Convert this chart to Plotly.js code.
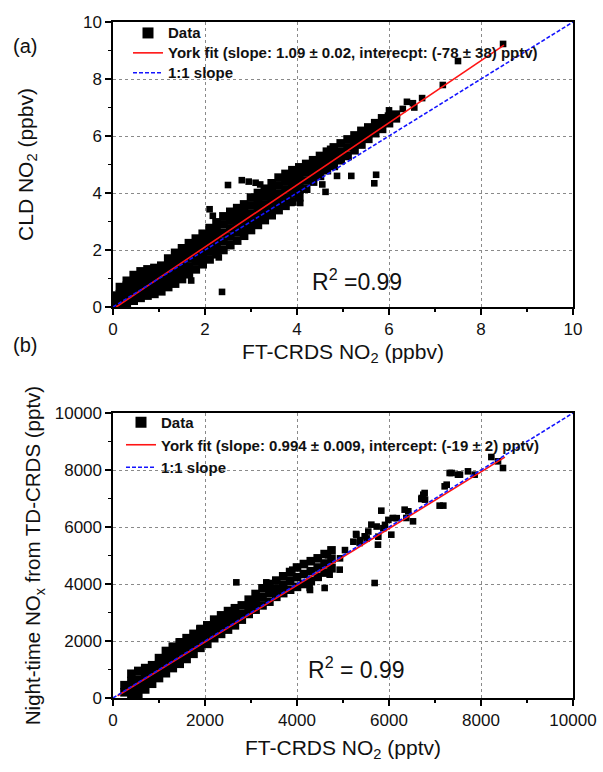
<!DOCTYPE html>
<html><head><meta charset="utf-8">
<script src="https://cdn.plot.ly/plotly-3.0.1.min.js"></script>
<style>html,body{margin:0;padding:0;background:#fff}#chart{width:603px;height:772px}</style>
</head><body><div id="chart"></div>
<script>
// ---------- Panel (a): CLD NO2 vs FT-CRDS NO2 (ppbv) ----------
const aColX = [0.05,0.15,0.3,0.45,0.6,0.75,0.9,1.05,1.2,1.35,1.5,1.65,1.8,1.95,2.1,2.25,2.4,2.55,2.7,2.85,3.0,3.15,3.3,3.45,3.6,3.75,3.9,4.05,4.2,4.35,4.5,4.65,4.8,4.95,5.1,5.25,5.4,5.55,5.7,5.85,6.0,6.15];
const aColY = [
 [0.02,0.2,0.4],[0.05,0.25,0.45,0.7],[0.12,0.33,0.55,0.75,0.92],[0.22,0.45,0.68,0.9,1.12],
 [0.32,0.55,0.78,1.0,1.25],[0.4,0.62,0.85,1.08,1.32],[0.46,0.7,0.92,1.15,1.37],[0.55,0.78,1.0,1.22,1.45],
 [0.7,0.95,1.2,1.45,1.7],[0.82,1.08,1.35,1.62,1.9],[0.98,1.25,1.52,1.8,2.06],[1.15,1.42,1.7,1.97,2.24],
 [1.32,1.6,1.87,2.14,2.4],[1.5,1.77,2.04,2.3,2.57],[1.67,1.95,2.22,2.5,2.77],[1.85,2.13,2.41,2.7,2.97],
 [2.0,2.3,2.6,2.9,3.18],[2.17,2.47,2.76,3.05,3.34],[2.33,2.62,2.91,3.2,3.47],[2.5,2.78,3.06,3.33,3.6],
 [2.7,2.98,3.27,3.56,3.84],[2.88,3.16,3.44,3.72,4.0],[3.05,3.33,3.6,3.88,4.15],[3.22,3.5,3.78,4.06,4.34],
 [3.4,3.68,3.97,4.26,4.54],[3.55,3.83,4.12,4.4,4.67],[3.7,3.98,4.25,4.52,4.8],[3.85,4.12,4.38,4.64,4.9],
 [4.15,4.44,4.73,5.02],[4.4,4.65,4.9,5.15],[4.6,4.85,5.07,5.3],[4.8,5.03,5.25,5.45],[4.95,5.18,5.4,5.6],
 [5.15,5.45,5.74],[5.3,5.6,5.88],[5.5,5.76,6.02],[5.7,5.95,6.18],[5.9,6.1,6.3],[6.1,6.3,6.45],
 [6.25,6.45,6.62],[6.45,6.68],[6.62,6.75]
];
const aOutX = [6.39,6.52,6.72,6.55,7.17,7.5,8.48,2.5,2.8,2.95,3.1,3.2,2.1,2.17,1.7,2.37,2.3,4.07,4.55,4.62,4.87,5.18,5.72,5.68,4.72,3.88,6.3,6.0];
const aOutY = [7.2,7.15,7.33,7.0,7.79,8.63,9.23,4.28,4.45,4.4,4.36,4.3,3.43,3.2,0.93,0.53,1.74,3.65,4.3,4.04,4.6,4.6,4.64,4.34,5.55,3.65,6.95,6.9];
const aFitX = [0.07, 8.5];
const aFitY = [0.0, 9.19];
const aOneX = [0, 10];
const aOneY = [0, 10];

// ---------- Panel (b): Night-time NOx vs FT-CRDS NO2 (pptv) ----------
const bColX = [250,400,550,700,850,1000,1150,1300,1450,1600,1750,1900,2050,2200,2350,2500,2650,2800,2950,3100,3250,3400,3550,3700,3850,4000,4150,4300,4450,4600,4750];
const bColY = [
 [200,450],[100,350,600,850],[150,400,650,950],[300,550,800,1050],[500,720,940,1150],
 [700,930,1160,1400],[870,1130,1390,1650],[1050,1300,1550,1800],[1200,1450,1700,1950],
 [1370,1610,1850,2100],[1550,1780,2010,2250],[1760,1970,2180,2400],[1900,2120,2340,2550],
 [2100,2320,2540,2750],[2250,2470,2690,2900],[2400,2620,2840,3050],[2550,2750,2950,3150],
 [2750,2950,3250],[2950,3200,3450],[3100,3370,3650],[3250,3550,3850],[3380,3690,4000],
 [3550,3830,4120],[3680,3970,4270],[3800,4110,4420],[3900,4240,4580],[4000,4350,4700],
 [4100,4450,4800],[4250,4580,4900],[4400,4720,5050],[4550,4870,5180]
];
const bOutX = [2681,3333,3370,3478,3898,3840,4275,4601,4710,4928,4674,5290,5471,5616,5833,5760,5688,6050,6087,6340,6377,6522,6703,6775,7101,7210,7319,7500,7717,7862,8225,8370,8478,1449,1630,1884,5362,4935,5043,5225,5370,5283,5550,5732,5877,5913,5986,6167,6420,6746,6783,6710,7181,7254,7362,7543,5768,5514,3377,4283];
const bOutY = [4058,4058,3918,3801,4503,4152,3860,3860,4327,4503,5006,5731,5673,6082,6573,5380,4035,5731,6316,6608,6316,6199,6982,7193,6749,7427,7895,7836,7953,7836,8456,8304,8070,1988,2105,2456,5439,4900,5190,5485,5540,5755,5840,6016,5960,6075,6250,6310,6550,7135,6960,7018,6750,7485,7895,7836,5660,5600,3965,3790];
const bFitX = [100, 8520];
const bFitY = [80, 8450];
const bOneX = [0, 10000];
const bOneY = [0, 10000];

const aTicks = [0,2,4,6,8,10];
const bTicks = [0,2000,4000,6000,8000,10000];

function flatten(colX, colY) {
  const xs = [], ys = [];
  colX.forEach((x, i) => colY[i].forEach(y => { xs.push(x); ys.push(y); }));
  return {x: xs, y: ys};
}
const A = flatten(aColX, aColY);
const B = flatten(bColX, bColY);

const FONT = 'Liberation Sans, Arial, sans-serif';
const mkBand = {symbol: 'square', size: 8.6, color: '#000'};
const mkOut = {symbol: 'square', size: 6.6, color: '#000'};
const red = {color: '#ff1414', width: 1.6};
const blue = {color: '#1414ff', width: 1.6, dash: '4px,2px'};

const traces = [
  {x: A.x, y: A.y, xaxis: 'x', yaxis: 'y', mode: 'markers', marker: mkBand, showlegend: false, hoverinfo: 'skip'},
  {x: aOutX, y: aOutY, xaxis: 'x', yaxis: 'y', mode: 'markers', marker: mkOut, showlegend: false, hoverinfo: 'skip'},
  {x: [null], y: [null], xaxis: 'x', yaxis: 'y', mode: 'markers', marker: {symbol: 'square', size: 11, color: '#000'}, name: '<span style="font-size:15px">Data</span>', legend: 'legend'},
  {x: aFitX, y: aFitY, xaxis: 'x', yaxis: 'y', mode: 'lines', line: red, name: '<span style="font-size:15px">York fit (slope: 1.09 ± 0.02, interecpt: (-78 ± 38) pptv)</span>', legend: 'legend'},
  {x: aOneX, y: aOneY, xaxis: 'x', yaxis: 'y', mode: 'lines', line: blue, name: '<span style="font-size:15px">1:1 slope</span>', legend: 'legend'},
  {x: B.x, y: B.y, xaxis: 'x2', yaxis: 'y2', mode: 'markers', marker: mkBand, showlegend: false, hoverinfo: 'skip'},
  {x: bOutX, y: bOutY, xaxis: 'x2', yaxis: 'y2', mode: 'markers', marker: mkOut, showlegend: false, hoverinfo: 'skip'},
  {x: [null], y: [null], xaxis: 'x2', yaxis: 'y2', mode: 'markers', marker: {symbol: 'square', size: 11, color: '#000'}, name: 'Data', legend: 'legend2'},
  {x: bFitX, y: bFitY, xaxis: 'x2', yaxis: 'y2', mode: 'lines', line: red, name: 'York fit (slope: 0.994 ± 0.009, intercept: (-19 ± 2) pptv)', legend: 'legend2'},
  {x: bOneX, y: bOneY, xaxis: 'x2', yaxis: 'y2', mode: 'lines', line: blue, name: '1:1 slope', legend: 'legend2'}
];

const W = 603, H = 772;
const xd = [113 / W, 573 / W];
const yaD = [1 - 307 / H, 1 - 22 / H];
const ybD = [1 - 698 / H, 1 - 413 / H];

function axis(extra) {
  return Object.assign({
    showline: true, linecolor: '#000', linewidth: 1.6, mirror: true,
    ticks: 'outside', ticklen: 6, tickwidth: 1.5, tickcolor: '#000',
    showgrid: true, gridcolor: '#8a8a8a', griddash: 'dot', gridwidth: 1,
    zeroline: false, tickfont: {family: FONT, size: 17, color: '#111'},
    tickformat: 'd', fixedrange: true
  }, extra);
}
function minor(d) {
  return {ticks: 'outside', ticklen: 3, tickwidth: 1.5, tickcolor: '#000', dtick: d, showgrid: false};
}

const titleFont = {family: FONT, size: 21, color: '#111'};

const layout = {
  width: W, height: H,
  margin: {l: 0, r: 0, t: 0, b: 0},
  paper_bgcolor: '#fff', plot_bgcolor: '#fff',
  font: {family: FONT},
  xaxis: axis({domain: xd, anchor: 'y', range: [0, 10], tickvals: aTicks, minor: minor(1),
    title: {text: 'FT-CRDS NO<sub>2</sub> (ppbv)', font: titleFont, standoff: 6}}),
  yaxis: axis({domain: yaD, anchor: 'x', range: [0, 10], tickvals: aTicks, minor: minor(1),
    title: {text: 'CLD NO<sub>2</sub> (ppbv)', font: titleFont, standoff: 44}}),
  xaxis2: axis({domain: xd, anchor: 'y2', range: [0, 10000], tickvals: bTicks, minor: minor(1000),
    title: {text: 'FT-CRDS NO<sub>2</sub> (pptv)', font: titleFont, standoff: 11}}),
  yaxis2: axis({domain: ybD, anchor: 'x2', range: [0, 10000], tickvals: bTicks, minor: minor(1000),
    title: {text: 'Night-time NO<sub>x</sub> from TD-CRDS (pptv)', font: {family: FONT, size: 20.5, color: '#111'}, standoff: 8}}),
  legend: {x: 128 / W, y: 1 - 18 / H, xanchor: 'left', yanchor: 'top', bgcolor: 'rgba(0,0,0,0)',
    font: {family: FONT, size: 13, color: '#111', weight: 'bold'}, tracegroupgap: 0,
    itemclick: false, itemdoubleclick: false},
  legend2: {x: 121 / W, y: 1 - 406 / H, xanchor: 'left', yanchor: 'top', bgcolor: 'rgba(0,0,0,0)',
    font: {family: FONT, size: 15, color: '#111', weight: 'bold'}, tracegroupgap: 0,
    itemclick: false, itemdoubleclick: false},
  annotations: [
    {text: 'R<sup>2</sup> =0.99', xref: 'paper', yref: 'paper', x: 357 / W, y: 1 - 280 / H,
      xanchor: 'center', yanchor: 'middle', showarrow: false, font: {family: FONT, size: 23, color: '#111'}},
    {text: 'R<sup>2</sup> = 0.99', xref: 'paper', yref: 'paper', x: 356 / W, y: 1 - 668 / H,
      xanchor: 'center', yanchor: 'middle', showarrow: false, font: {family: FONT, size: 23, color: '#111'}},
    {text: '(a)', xref: 'paper', yref: 'paper', x: 25 / W, y: 1 - 46 / H,
      xanchor: 'center', yanchor: 'middle', showarrow: false, font: {family: FONT, size: 20, color: '#111'}},
    {text: '(b)', xref: 'paper', yref: 'paper', x: 25 / W, y: 1 - 345 / H,
      xanchor: 'center', yanchor: 'middle', showarrow: false, font: {family: FONT, size: 20, color: '#111'}}
  ],
  showlegend: true
};

Plotly.newPlot('chart', traces, layout, {displayModeBar: false, staticPlot: true});
</script></body></html>
